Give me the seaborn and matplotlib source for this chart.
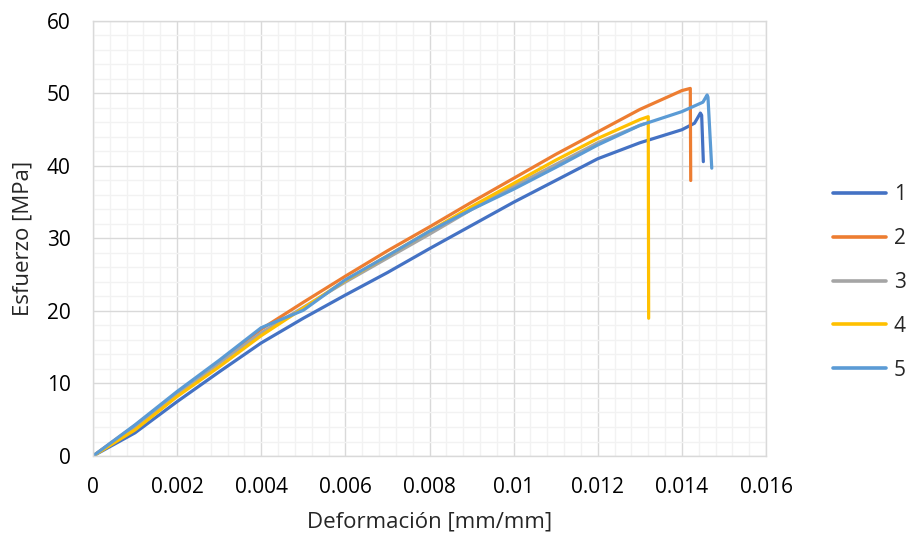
import pandas as pd
import numpy as np
import matplotlib
matplotlib.use("Agg")
import matplotlib.pyplot as plt
import seaborn as sns
from matplotlib.ticker import MultipleLocator

# strain [mm/mm] and stress [MPa], one pair of arrays per specimen
strain_1 = [0, 0.001, 0.002, 0.003, 0.004, 0.005, 0.006, 0.007, 0.008, 0.009, 0.010,
            0.011, 0.012, 0.013, 0.014, 0.0143, 0.01444, 0.01447, 0.01451]
stress_1 = [0, 3.2, 7.5, 11.6, 15.6, 19.0, 22.2, 25.3, 28.6, 31.8, 35.0,
            38.0, 41.0, 43.2, 45.0, 45.9, 47.3, 47.0, 40.6]

strain_2 = [0, 0.001, 0.002, 0.003, 0.004, 0.005, 0.006, 0.007, 0.008, 0.009, 0.010,
            0.011, 0.012, 0.013, 0.014, 0.0142, 0.01421]
stress_2 = [0, 4.2, 8.7, 13.0, 17.5, 21.2, 24.8, 28.3, 31.6, 35.0, 38.3,
            41.6, 44.7, 47.8, 50.4, 50.7, 38.0]

strain_3 = [0, 0.001, 0.002, 0.003, 0.004, 0.005, 0.006, 0.007, 0.008, 0.009, 0.010,
            0.011, 0.012, 0.013, 0.0131]
stress_3 = [0, 4.0, 8.5, 12.8, 17.0, 20.5, 24.0, 27.3, 30.6, 34.0, 37.2,
            40.2, 43.2, 45.6, 45.8]

strain_4 = [0, 0.001, 0.002, 0.003, 0.004, 0.005, 0.006, 0.007, 0.008, 0.009, 0.010,
            0.011, 0.012, 0.013, 0.0132, 0.01321]
stress_4 = [0, 3.6, 8.2, 12.3, 16.6, 20.4, 24.2, 27.6, 31.0, 34.4, 37.6,
            40.8, 43.8, 46.4, 46.8, 19.0]

strain_5 = [0, 0.001, 0.002, 0.003, 0.004, 0.005, 0.006, 0.007, 0.008, 0.009, 0.010,
            0.011, 0.012, 0.013, 0.014, 0.0145, 0.0146, 0.01462, 0.01471]
stress_5 = [0, 4.3, 8.9, 13.2, 17.7, 20.1, 24.3, 27.6, 31.0, 34.0, 36.8,
            39.8, 42.9, 45.6, 47.5, 48.8, 49.8, 49.5, 39.7]

specimens = ["1", "2", "3", "4", "5"]
colors = ["#4472C4", "#ED7D31", "#A5A5A5", "#FFC000", "#5B9BD5"]
x_ticks = [0, 0.002, 0.004, 0.006, 0.008, 0.010, 0.012, 0.014, 0.016]
x_tick_labels = ["0", "0.002", "0.004", "0.006", "0.008", "0.01", "0.012", "0.014", "0.016"]
y_ticks = [0, 10, 20, 30, 40, 50, 60]

# long table for seaborn
frames = []
for name, xs, ys in zip(specimens,
                        [strain_1, strain_2, strain_3, strain_4, strain_5],
                        [stress_1, stress_2, stress_3, stress_4, stress_5]):
    frames.append(pd.DataFrame({"strain": xs, "stress": ys, "specimen": name}))
df = pd.concat(frames, ignore_index=True)

sns.set_style("white")
plt.rcParams["font.family"] = ["Open Sans", "DejaVu Sans"]

fig = plt.figure(figsize=(9.09, 5.45), dpi=100)
ax = fig.add_axes([0.1023, 0.1633, 0.7404, 0.7982])

sns.lineplot(data=df, x="strain", y="stress", hue="specimen", palette=colors,
             estimator=None, sort=False, linewidth=2.3, ax=ax, legend=False)

ax.set_xlim(0, 0.016)
ax.set_ylim(0, 60)
ax.set_xticks(x_ticks)
ax.set_xticklabels(x_tick_labels)
ax.set_yticks(y_ticks)
ax.xaxis.set_minor_locator(MultipleLocator(0.0004))
ax.yaxis.set_minor_locator(MultipleLocator(2))
ax.grid(which="minor", color="#f2f2f2", linewidth=1.0)
ax.grid(which="major", color="#d9d9d9", linewidth=1.0)
ax.set_axisbelow(True)
for sp in ax.spines.values():
    sp.set_color("#d9d9d9")
    sp.set_linewidth(1.0)
ax.tick_params(which="both", length=0, labelsize=15, colors="#000000")
ax.tick_params(axis="x", pad=15)
ax.tick_params(axis="y", pad=16)

ax.set_xlabel("Deformación [mm/mm]", fontsize=16, labelpad=10)
ax.set_ylabel("Esfuerzo [MPa]", fontsize=16, labelpad=10)

handles = [plt.Line2D([], [], color=c, linewidth=2.6) for c in colors]
fig.legend(handles, specimens, loc="center left", bbox_to_anchor=(0.896, 0.482),
           frameon=False, fontsize=15, handlelength=2.55, labelspacing=1.1,
           handletextpad=0.35)

fig.savefig("out.png", dpi=100)
